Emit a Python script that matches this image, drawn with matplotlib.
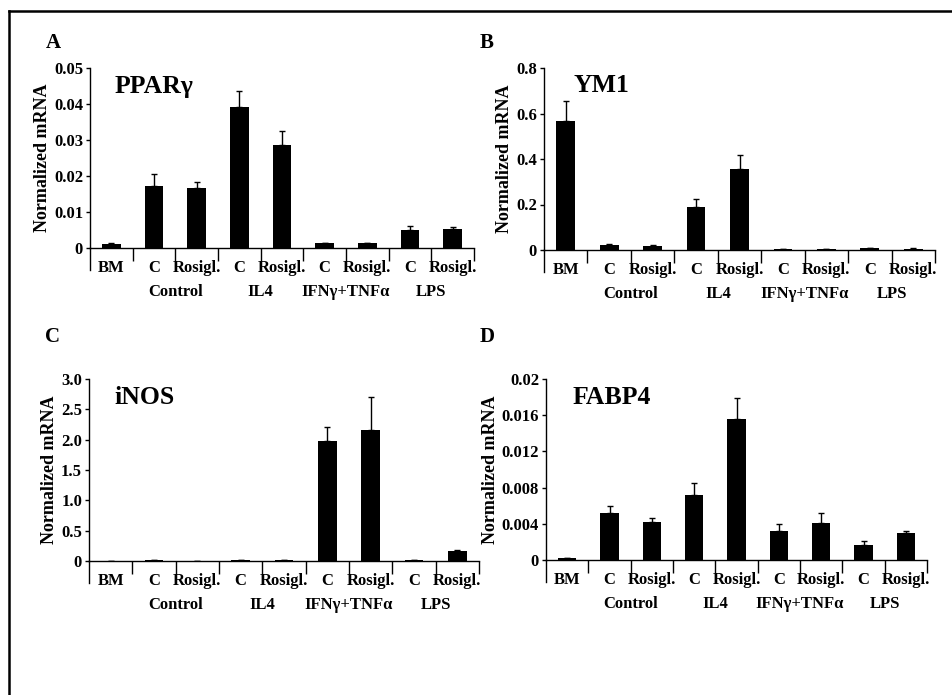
import matplotlib
matplotlib.use("Agg")
import matplotlib.pyplot as plt
from matplotlib.lines import Line2D
import numpy as np

plt.rcParams['font.family'] = ['Liberation Serif', 'DejaVu Serif']
plt.rcParams['font.weight'] = 'bold'

categories = ["BM", "C", "Rosigl.", "C", "Rosigl.", "C", "Rosigl.", "C", "Rosigl."]
groups = ["Control", "IL4", "IFNγ+TNFα", "LPS"]

ppar_vals = [0.0011, 0.0173, 0.0167, 0.0391, 0.0286, 0.0013, 0.0013, 0.0050, 0.0054]
ppar_errs = [0.0002, 0.0032, 0.0015, 0.0044, 0.0039, 0.0001, 0.0002, 0.0011, 0.0003]

ym1_vals = [0.569, 0.0235, 0.016, 0.190, 0.357, 0.003, 0.003, 0.007, 0.006]
ym1_errs = [0.088, 0.003, 0.004, 0.035, 0.059, 0.0005, 0.0005, 0.001, 0.001]

inos_vals = [0.005, 0.012, 0.005, 0.010, 0.010, 1.98, 2.163, 0.017, 0.165]
inos_errs = [0.0, 0.002, 0.0, 0.002, 0.002, 0.227, 0.537, 0.003, 0.01]

fabp_vals = [0.0002, 0.00516, 0.00416, 0.00718, 0.01558, 0.0032, 0.00405, 0.00162, 0.00295]
fabp_errs = [0.00003, 0.00077, 0.00044, 0.00129, 0.00232, 0.00078, 0.00111, 0.00048, 0.00029]

W, H = 952, 695
fig = plt.figure(figsize=(W / 100, H / 100), dpi=100)

panels = [
    dict(letter="A", title="PPARγ", vals=ppar_vals, errs=ppar_errs,
         box=(90, 474, 68, 248), ymax=0.05,
         yticks=[0, 0.01, 0.02, 0.03, 0.04, 0.05],
         ylabels=["0", "0.01", "0.02", "0.03", "0.04", "0.05"],
         letter_xy=(53, 43), title_xy=(115, 86)),
    dict(letter="B", title="YM1", vals=ym1_vals, errs=ym1_errs,
         box=(544, 935, 68, 250), ymax=0.8,
         yticks=[0, 0.2, 0.4, 0.6, 0.8],
         ylabels=["0", "0.2", "0.4", "0.6", "0.8"],
         letter_xy=(487, 43), title_xy=(573, 86)),
    dict(letter="C", title="iNOS", vals=inos_vals, errs=inos_errs,
         box=(89, 479, 379, 561), ymax=3.0,
         yticks=[0, 0.5, 1.0, 1.5, 2.0, 2.5, 3.0],
         ylabels=["0", "0.5", "1.0", "1.5", "2.0", "2.5", "3.0"],
         letter_xy=(53, 337), title_xy=(114, 397)),
    dict(letter="D", title="FABP4", vals=fabp_vals, errs=fabp_errs,
         box=(546, 927, 379, 560), ymax=0.02,
         yticks=[0, 0.004, 0.008, 0.012, 0.016, 0.02],
         ylabels=["0", "0.004", "0.008", "0.012", "0.016", "0.02"],
         letter_xy=(487, 337), title_xy=(573, 397)),
]

fs = 12
for p in panels:
    l, r, t, b = p["box"]
    ax = fig.add_axes([l / W, 1 - b / H, (r - l) / W, (b - t) / H])
    x = np.arange(len(categories))
    vals = p["vals"]
    errs = p["errs"]
    ax.bar(x, vals, width=0.43, color="black", zorder=2)
    ax.errorbar(x, vals, yerr=[np.zeros(len(errs)), errs], fmt="none",
                ecolor="black", elinewidth=1.0, capsize=2.5, capthick=1.0, zorder=3)
    ax.set_xlim(-0.5, len(categories) - 0.5)
    ax.set_ylim(0, p["ymax"])
    for s in ["top", "right"]:
        ax.spines[s].set_visible(False)
    ax.spines["left"].set_linewidth(1.0)
    ax.spines["bottom"].set_linewidth(1.0)
    ax.set_yticks(p["yticks"])
    ax.set_yticklabels(p["ylabels"], fontsize=fs, fontweight="bold")
    ax.tick_params(axis="y", direction="out", length=3, width=1, pad=2)
    bounds = np.arange(0.5, len(categories), 1.0)
    ax.set_xticks(bounds)
    ax.set_xticklabels([""] * len(bounds))
    ax.tick_params(axis="x", direction="out", length=9.5, width=1)
    ax.set_ylabel("Normalized mRNA", fontsize=13, fontweight="bold", labelpad=2)
    # extended left axis line below zero
    axh = b - t
    ax.plot([-0.5, -0.5], [0, -22 / axh], color="black", lw=1.0,
            transform=ax.get_xaxis_transform(), clip_on=False)
    for i, c in enumerate(categories):
        ax.text(i, -20 / axh, c, transform=ax.get_xaxis_transform(),
                ha="center", va="center", fontsize=fs, fontweight="bold")
    for g, name in enumerate(groups):
        ax.text(1.5 + 2 * g, -44 / axh, name, transform=ax.get_xaxis_transform(),
                ha="center", va="center", fontsize=fs, fontweight="bold")
    tx, ty = p["title_xy"]
    fig.text(tx / W, 1 - ty / H, p["title"], ha="left", va="center",
             fontsize=18.5, fontweight="bold")
    lx, ly = p["letter_xy"]
    fig.text(lx / W, 1 - ly / H, p["letter"], ha="center", va="center",
             fontsize=15, fontweight="bold")

# outer frame (left and top edges)
fig.add_artist(Line2D([8.5 / W, 8.5 / W], [0, 1 - 10.5 / H], color="black", lw=1.8))
fig.add_artist(Line2D([8.5 / W, 1], [1 - 10.5 / H, 1 - 10.5 / H], color="black", lw=1.8))

fig.savefig("out.png", dpi=100)
